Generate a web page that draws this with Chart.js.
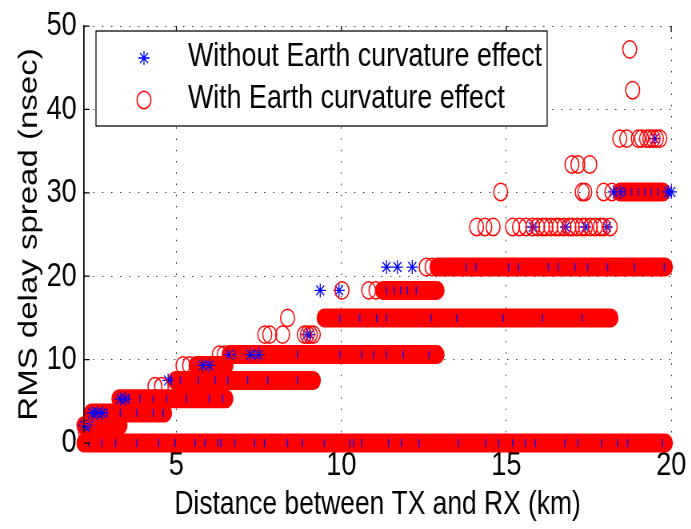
<!DOCTYPE html>
<html><head><meta charset="utf-8">
<script src="https://cdn.jsdelivr.net/npm/chart.js@4.4.1/dist/chart.umd.min.js"></script>
<style>
html,body{margin:0;padding:0;background:#fff;overflow:hidden;width:691px;height:529px}
#wrap{width:864px;height:529px;transform:scaleX(0.8);transform-origin:0 0}
canvas{display:block}
</style></head><body>
<div id="wrap"><canvas id="c" width="864" height="529"></canvas></div>
<script>
// ---------------- data (x: distance km, y: RMS delay spread ns) ----------------
const xTicks = [5, 10, 15, 20];
const yTicks = [0, 10, 20, 30, 40, 50];
const xLabel = 'Distance between TX and RX (km)';
const yLabel = 'RMS delay spread (nsec)';
const seriesNames = ['Without Earth curvature effect', 'With Earth curvature effect'];

// Dense runs of overlapping "with curvature" circles: level (ns), first and last distance (km)
const runLevels = [0, 2.1, 3.6, 5.3, 7.5, 9.3, 10.6, 15.0, 18.3, 21.1, 30.1];
const runStarts = [2.2, 2.2, 2.42, 3.26, 4.97, 5.6, 6.6, 9.48, 11.25, 12.9, 18.45];
const runEnds   = [19.82, 3.29, 4.64, 6.5, 9.15, 6.5, 12.9, 18.17, 12.9, 19.82, 19.75];

// Individually visible "with curvature" circles
const withX = [2.25, 2.3, 4.35, 4.55, 5.2, 5.4, 6.3, 6.45,
  7.68, 7.83, 8.22, 8.88, 8.97, 9.06, 9.15,
  8.37,
  10.02, 10.83, 11.05,
  12.57, 12.75,
  14.1, 14.35, 14.6, 15.19, 15.4, 15.6, 15.8, 15.95, 16.1, 16.2, 16.35, 16.5, 16.6, 16.75, 16.9, 17.0, 17.15, 17.3, 17.4, 17.55, 17.7, 17.85, 17.95, 18.15,
  14.83, 17.3, 17.38, 17.95, 18.2,
  16.99, 17.17, 17.53,
  18.44, 18.65, 19.0, 19.1, 19.25, 19.35, 19.45, 19.55, 19.65,
  18.83, 18.74];
const withY = [1.2, 1.5, 6.8, 6.8, 9.3, 9.3, 10.6, 10.6,
  13.0, 13.0, 13.0, 13.0, 13.0, 13.0, 13.0,
  15.0,
  18.3, 18.3, 18.3,
  21.1, 21.1,
  25.9, 25.9, 25.9, 25.9, 25.9, 25.9, 25.9, 25.9, 25.9, 25.9, 25.9, 25.9, 25.9, 25.9, 25.9, 25.9, 25.9, 25.9, 25.9, 25.9, 25.9, 25.9, 25.9, 25.9,
  30.1, 30.1, 30.1, 30.1, 30.1,
  33.4, 33.4, 33.4,
  36.5, 36.5, 36.5, 36.5, 36.5, 36.5, 36.5, 36.5, 36.5,
  42.3, 47.2];

// Clearly visible "without curvature" stars
const withoutX = [2.2, 2.35, 2.45, 2.6, 2.75, 3.3, 3.45, 4.75, 5.8, 6.0, 6.6, 7.25, 7.5, 8.95, 9.05,
  9.36, 9.93, 11.37, 11.7, 12.15, 15.8, 16.8, 17.4, 18.05, 18.25, 18.45, 19.9, 20.0, 19.5];
const withoutY = [2.1, 2.1, 3.6, 3.6, 3.6, 5.3, 5.3, 7.5, 9.3, 9.3, 10.6, 10.6, 10.6, 13.0, 13.0,
  18.3, 18.3, 21.1, 21.1, 21.1, 25.9, 25.9, 25.9, 25.9, 30.1, 30.1, 30.1, 30.1, 36.5];

// "without curvature" stars mostly hidden inside the dense red runs
const hiddenX = [2.35, 2.74, 3.16, 3.8, 4.46, 4.97, 5.57, 5.87, 6.26, 6.35, 6.77, 7.37, 7.67, 8.37, 8.82, 9.48, 10.26,
  10.38, 10.62, 11.43, 11.82, 12.36, 13.54, 14.38, 14.77, 15.19, 15.58, 15.88, 16.78, 17.17, 17.89, 18.37, 18.68, 19.73,
  6.77, 7.37, 8.67, 9.96, 10.62, 10.98, 11.37, 11.88, 12.66,
  9.96, 10.56, 11.07, 11.37, 12.72, 13.5, 14.9, 16.1, 17.3,
  13.78, 14.08, 15.07, 15.37, 16.27, 16.57, 17.08, 17.47, 18.07, 18.89, 19.79,
  11.37, 11.6, 11.8, 12.0, 12.27,
  4.85, 5.12, 5.66, 6.17, 6.56, 7.16, 7.77, 8.67,
  3.56, 3.9, 4.3, 4.7, 5.3, 6.0, 6.4,
  2.5, 2.9, 3.3, 3.8, 4.3, 4.6,
  18.6, 18.8, 19.0, 19.2, 19.4, 19.6];
const hiddenY = [0, 0, 0, 0, 0, 0, 0, 0, 0, 0, 0, 0, 0, 0, 0, 0, 0,
  0, 0, 0, 0, 0, 0, 0, 0, 0, 0, 0, 0, 0, 0, 0, 0, 0,
  10.6, 10.6, 10.6, 10.6, 10.6, 10.6, 10.6, 10.6, 10.6,
  15, 15, 15, 15, 15, 15, 15, 15, 15,
  21.1, 21.1, 21.1, 21.1, 21.1, 21.1, 21.1, 21.1, 21.1, 21.1, 21.1,
  18.3, 18.3, 18.3, 18.3, 18.3,
  7.5, 7.5, 7.5, 7.5, 7.5, 7.5, 7.5, 7.5,
  5.3, 5.3, 5.3, 5.3, 5.3, 5.3, 5.3,
  3.6, 3.6, 3.6, 3.6, 3.6, 3.6,
  30.1, 30.1, 30.1, 30.1, 30.1, 30.1];

// ---------------- chart ----------------
const RED = '#ff0000', BLUE = '#0000ff';
const FONT = "'Liberation Sans', Arial, Helvetica, sans-serif";
const pts = (xs, ys) => xs.map((x, i) => ({x: x, y: ys[i]}));

const datasets = [];
runLevels.forEach((lv, i) => {
  datasets.push({
    type: 'line', label: '_run', data: [{x: runStarts[i], y: lv}, {x: runEnds[i], y: lv}],
    showLine: true, borderColor: RED, borderWidth: 19, borderCapStyle: 'round',
    pointRadius: 0, fill: false, tension: 0, order: 4, clip: false
  });
});
datasets.push({label: '_hidden', data: pts(hiddenX, hiddenY), pointStyle: 'line', rotation: 90, pointRadius: 4,
  borderColor: BLUE, pointBorderColor: BLUE, pointBorderWidth: 1.4, backgroundColor: 'rgba(0,0,0,0)', order: 3, clip: false});
datasets.push({label: seriesNames[0], data: pts(withoutX, withoutY), pointStyle: 'star', pointRadius: 7,
  borderColor: BLUE, pointBorderColor: BLUE, pointBorderWidth: 1.3, backgroundColor: 'rgba(0,0,0,0)', order: 2, clip: false});
datasets.push({label: seriesNames[1], data: pts(withX, withY), pointStyle: 'circle', pointRadius: 8.7,
  borderColor: RED, pointBorderColor: RED, pointBorderWidth: 1.5, backgroundColor: 'rgba(0,0,0,0)',
  pointBackgroundColor: 'rgba(0,0,0,0)', order: 1, clip: false});

function drawMarker(ctx, style, color, r, lw, x, y) {
  ctx.save();
  ctx.strokeStyle = color; ctx.lineWidth = lw;
  ctx.beginPath();
  if (style === 'circle') {
    ctx.arc(x, y, r, 0, Math.PI * 2);
  } else {
    const d = r * Math.SQRT1_2;
    ctx.moveTo(x - r, y); ctx.lineTo(x + r, y);
    ctx.moveTo(x, y - r); ctx.lineTo(x, y + r);
    ctx.moveTo(x - d, y - d); ctx.lineTo(x + d, y + d);
    ctx.moveTo(x - d, y + d); ctx.lineTo(x + d, y - d);
  }
  ctx.stroke();
  ctx.restore();
}

const innerTicks = {
  id: 'innerTicks',
  afterDatasetsDraw(chart) {
    const {ctx, chartArea: a, scales: {x, y}} = chart;
    ctx.save();
    ctx.strokeStyle = '#000'; ctx.lineWidth = 1.25;
    ctx.beginPath();
    ctx.moveTo(a.left, a.top); ctx.lineTo(a.left, y.getPixelForValue(0) - 10);
    yTicks.forEach(v => { const py = y.getPixelForValue(v); ctx.moveTo(a.left, py); ctx.lineTo(a.left + 7, py); });
    xTicks.forEach(v => { const px = x.getPixelForValue(v); ctx.moveTo(px, a.top); ctx.lineTo(px, a.top + 6); });
    ctx.stroke();
    ctx.restore();
  }
};

const boxLegend = {
  id: 'boxLegend',
  afterDraw(chart) {
    const ctx = chart.ctx;
    const L = 120, T = 31, R = 684, B = 126;
    ctx.save();
    ctx.fillStyle = '#fff'; ctx.fillRect(L, T, R - L, B - T);
    ctx.strokeStyle = '#000'; ctx.lineWidth = 1.25; ctx.strokeRect(L, T, R - L, B - T);
    const rows = chart.data.datasets.filter(d => seriesNames.includes(d.label));
    const rowY = [57, 99];
    rows.forEach((d, i) => {
      drawMarker(ctx, d.pointStyle, d.pointBorderColor, d.pointRadius, d.pointBorderWidth, 180, rowY[i] + 1);
      ctx.fillStyle = '#000';
      ctx.font = '33.5px ' + FONT;
      ctx.textBaseline = 'middle'; ctx.textAlign = 'left';
      ctx.fillText(d.label, 235, rowY[i]);
    });
    ctx.restore();
  }
};

new Chart(document.getElementById('c'), {
  type: 'scatter',
  data: {datasets: datasets},
  plugins: [innerTicks, boxLegend],
  options: {
    responsive: false, animation: false, devicePixelRatio: 1,
    layout: {padding: {left: 0, right: 18, top: 16, bottom: 0}},
    plugins: {legend: {display: false}, tooltip: {enabled: false}},
    scales: {
      x: {
        type: 'linear', min: 2.2, max: 20,
        afterBuildTicks: s => { s.ticks = xTicks.map(v => ({value: v})); },
        afterFit: s => { s.height = 86; },
        ticks: {color: '#000', padding: 6, font: {family: FONT, size: 34, lineHeight: 1}, maxRotation: 0},
        grid: {color: '#222', lineWidth: 1, drawTicks: false},
        border: {display: true, color: '#000', width: 1.25, dash: [1.5, 9.75]},
        title: {display: true, text: xLabel, color: '#000', font: {family: FONT, size: 33, lineHeight: 1.2}, padding: {top: 0, bottom: 4}}
      },
      y: {
        type: 'linear', min: 0, max: 50,
        afterBuildTicks: s => { s.ticks = yTicks.map(v => ({value: v})); },
        afterFit: s => { s.width = 105; },
        ticks: {color: '#000', padding: 9, font: {family: FONT, size: 34, lineHeight: 1}},
        grid: {color: '#222', lineWidth: 1, drawTicks: false},
        border: {display: true, color: '#000', width: 1.25, dash: [1.5, 9.75]},
        title: {display: true, text: yLabel, color: '#000', font: {family: FONT, size: 33, lineHeight: 1.2}, padding: {top: 17, bottom: 0}}
      }
    }
  }
});
</script>
</body></html>
